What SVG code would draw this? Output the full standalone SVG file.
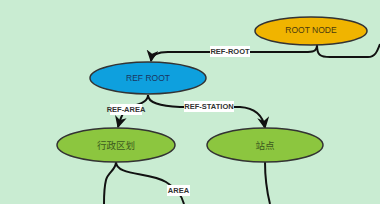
<svg xmlns="http://www.w3.org/2000/svg" width="380" height="204" viewBox="0 0 380 204">
<defs>
<marker id="ah" viewBox="0 0 10 10" refX="9" refY="5" markerWidth="6" markerHeight="6" orient="auto-start-reverse">
<path d="M0,0 L10,5 L0,10 L3,5 Z" fill="#111"/>
</marker>
</defs>
<style>
.node{stroke:#333;stroke-width:1.5}
.c{fill:none;stroke:#111;stroke-width:2}
.lbl{fill:#fff}
.lt{font-family:"Liberation Sans",Arial,sans-serif;font-size:7.5px;font-weight:bold;fill:#333;text-anchor:middle;dominant-baseline:central}
.nt{font-family:"Liberation Sans",Arial,sans-serif;font-size:8.5px;text-anchor:middle;dominant-baseline:central}
.ct{font-family:"Noto Sans CJK SC",sans-serif;font-size:9.5px;fill:#3c5a1e;text-anchor:middle;dominant-baseline:central}
</style>
<rect width="380" height="204" fill="#c9ecd2"/>
<g id="connectors">
<path class="c" d="M317,45 C317,52 312,52 305,52 L168,52 C158,52 152,54 151,61" marker-end="url(#ah)"/>
<path class="c" d="M317,45 C317,55 320,57 330,57 L368,57 C375,57 377,52 380,44"/>
<path class="c" d="M148,95 C148,101 142,104 132,106 C124,109 121,116 118,127" marker-end="url(#ah)"/>
<path class="c" d="M148,95 C148,103 160,106 180,107 L240,107 C255,108 263,116 265,128" marker-end="url(#ah)"/>
<path class="c" d="M116,162 C116,170 108,172 106,180 C104,188 104,196 104,204"/>
<path class="c" d="M116,162 C116,176 150,172 166,182 C176,188 182,196 184,204"/>
<path class="c" d="M265,162 C265,178 267,192 270,204"/>
<rect class="lbl" x="210" y="46" width="40" height="11"/>
<text class="lt" x="230" y="51.5">REF-ROOT</text>
<rect class="lbl" x="110" y="104" width="32" height="11"/>
<text class="lt" x="126" y="109.5">REF-AREA</text>
<rect class="lbl" x="184" y="101" width="50" height="11"/>
<text class="lt" x="209" y="106.5">REF-STATION</text>
<rect class="lbl" x="167" y="185" width="23" height="11"/>
<text class="lt" x="178.5" y="190.5">AREA</text>
</g>
<g id="root-node">
<ellipse class="node" cx="311" cy="31" rx="56" ry="14" fill="#f0b400"/>
<text class="nt" x="311" y="30" fill="#4a3a10">ROOT NODE</text>
</g>
<g id="ref-root">
<ellipse class="node" cx="148" cy="78" rx="58" ry="16" fill="#0ea0de"/>
<text class="nt" x="148" y="78" fill="#1a3560">REF ROOT</text>
</g>
<g id="area">
<ellipse class="node" cx="116" cy="145" rx="59" ry="17" fill="#8cc63f"/>
<text class="ct" x="116" y="145">行政区划</text>
</g>
<g id="station">
<ellipse class="node" cx="265" cy="145" rx="58" ry="17" fill="#8cc63f"/>
<text class="ct" x="265" y="145">站点</text>
</g>
</svg>
